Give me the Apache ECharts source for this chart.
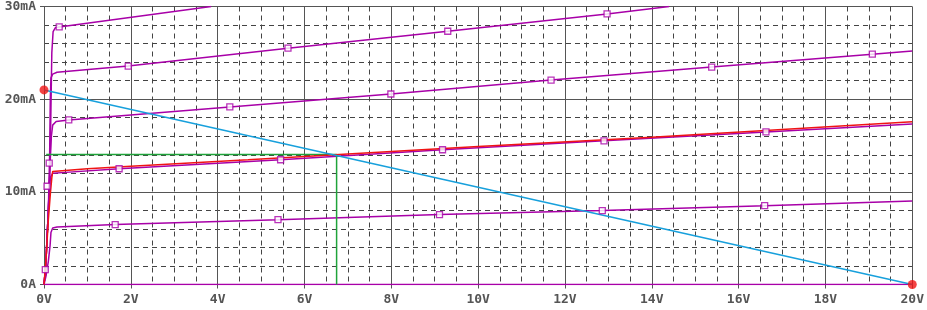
<!DOCTYPE html>
<html>
<head>
<meta charset="utf-8">
<script src="https://cdn.jsdelivr.net/npm/echarts@6/dist/echarts.min.js"></script>
<style>html,body{margin:0;padding:0;background:#fff}#c{width:927px;height:310px}</style>
</head>
<body>
<div id="c"></div>
<script>
// X ticks (V) and Y ticks (mA)
const xTicks = [0, 2, 4, 6, 8, 10, 12, 14, 16, 18, 20];
const yTicks = [0, 10, 20, 30];

// Output characteristic curves: [Vce (V), Ic (mA)]
const curveA = [[0,0],[0.04,2],[0.1,8],[0.14,13],[0.16,19],[0.18,25],[0.21,27.3],[0.26,27.7],[0.35,27.8],[3.85,30]];
const curveB = [[0,0],[0.04,2],[0.1,8],[0.13,14],[0.145,20],[0.16,22.3],[0.2,22.7],[0.3,22.9],[1.94,23.57],[5.62,25.5],[9.3,27.33],[12.97,29.2],[14.4,30]];
const curveC = [[0,0],[0.04,2],[0.1,8],[0.14,13],[0.17,16],[0.2,17.2],[0.28,17.6],[0.57,17.76],[4.28,19.16],[7.99,20.56],[11.68,22.06],[15.38,23.46],[19.08,24.86],[20,25.2]];
const curveD = [[0,0],[0.04,2],[0.08,6],[0.12,10],[0.15,11.6],[0.2,12.0],[0.5,12.1],[1.73,12.49],[5.45,13.46],[9.18,14.54],[12.9,15.5],[16.63,16.47],[20,17.33]];
const curveE = [[0,0],[0.05,1],[0.1,2.5],[0.14,4.2],[0.16,5.6],[0.2,6.1],[0.3,6.2],[1.64,6.47],[5.39,7.0],[9.11,7.55],[12.86,7.98],[16.6,8.51],[20,9.0]];
const curveF = [[0,0],[20,0]];
const redCurve = [[0,0],[0.05,3],[0.1,7],[0.15,10],[0.18,11.5],[0.2,12.2],[1,12.5],[2,12.77],[4.7,13.46],[10,14.89],[14,15.9],[20,17.55]];
const qLine = [[0.05,14.03],[6.74,14.03],[6.74,0]];
const loadLine = [[0,21],[20,0]];
const endDots = [[0,21],[20,0]];
const markers = [[0.35,27.8],[1.94,23.57],[5.62,25.5],[9.3,27.33],[12.97,29.2],
  [0.57,17.76],[4.28,19.16],[7.99,20.56],[11.68,22.06],[15.38,23.46],[19.08,24.86],
  [1.73,12.49],[5.45,13.46],[9.18,14.54],[12.9,15.5],[16.63,16.47],
  [1.64,6.47],[5.39,7.0],[9.11,7.55],[12.86,7.98],[16.6,8.51],
  [0.07,10.6],[0.12,13.1],[0.03,1.6]];

const MAG = '#a800a8', GRID = '#555', FONT = 'DejaVu Sans Mono';
const chart = echarts.init(document.getElementById('c'));
const line = (d, color, z) => ({type:'line', data:d, symbol:'none', showSymbol:false, z:z||3,
  lineStyle:{color:color, width:1.5}, animation:false, silent:true});
chart.setOption({
  animation:false,
  grid:{left:44, right:13, top:6, bottom:25.5, containLabel:false},
  xAxis:{type:'value', min:xTicks[0], max:xTicks[xTicks.length-1], interval:2,
    axisLine:{show:true, lineStyle:{color:GRID, width:1}},
    axisTick:{show:true, length:4, lineStyle:{color:GRID}},
    axisLabel:{formatter:v=>v+'V', color:GRID, fontFamily:FONT, fontWeight:'bold', fontSize:13, margin:9},
    splitLine:{show:true, lineStyle:{color:GRID, width:1}},
    minorTick:{show:false, splitNumber:4},
    minorSplitLine:{show:true, lineStyle:{color:'#444', width:1, type:[5,4]}}},
  yAxis:{type:'value', min:yTicks[0], max:yTicks[yTicks.length-1], interval:10,
    axisLine:{show:true, lineStyle:{color:GRID, width:1}},
    axisTick:{show:true, length:4, lineStyle:{color:GRID}},
    axisLabel:{formatter:v=>v===0?'0A':v+'mA', color:GRID, fontFamily:FONT, fontWeight:'bold', fontSize:13, margin:8},
    splitLine:{show:true, lineStyle:{color:GRID, width:1}},
    minorTick:{show:false, splitNumber:5},
    minorSplitLine:{show:true, lineStyle:{color:'#444', width:1, type:[5,4]}}},
  series:[
    line(curveF, MAG), line(curveE, MAG), line(curveD, MAG), line(curveC, MAG), line(curveB, MAG), line(curveA, MAG),
    line(qLine, '#1fa33a', 4),
    line(redCurve, '#f01414', 4),
    line(loadLine, '#17a0dc', 4),
    {type:'scatter', data:markers, symbol:'rect', symbolSize:6, z:5, animation:false, silent:true,
      itemStyle:{color:'#fff', borderColor:MAG, borderWidth:1.3}},
    {type:'scatter', data:endDots, symbol:'circle', symbolSize:9, z:6, animation:false, silent:true,
      itemStyle:{color:'#f01414'}}
  ]
});
</script>
</body>
</html>
